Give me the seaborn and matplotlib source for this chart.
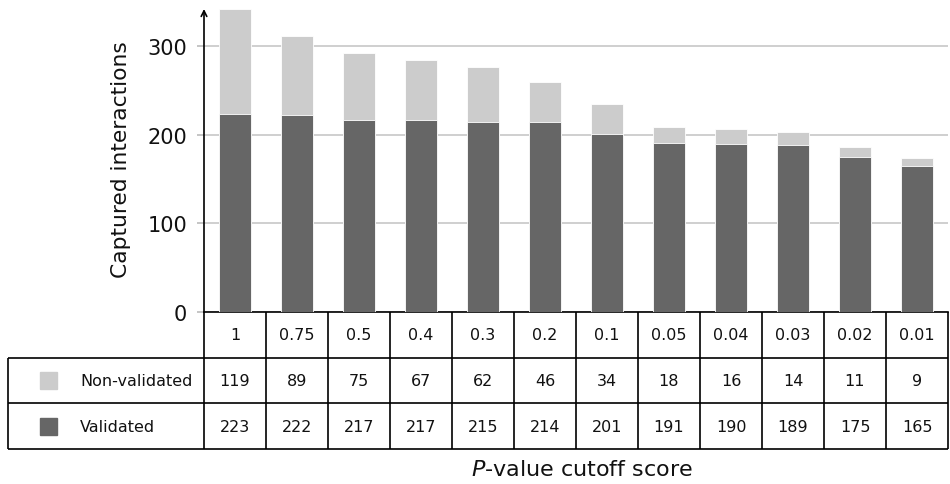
import matplotlib
matplotlib.use('Agg')
import matplotlib.pyplot as plt
from matplotlib.patches import Rectangle
import seaborn as sns
import pandas as pd

cutoffs = ['1', '0.75', '0.5', '0.4', '0.3', '0.2', '0.1', '0.05', '0.04', '0.03', '0.02', '0.01']
non_validated = [119, 89, 75, 67, 62, 46, 34, 18, 16, 14, 11, 9]
validated = [223, 222, 217, 217, 215, 214, 201, 191, 190, 189, 175, 165]
series_names = ['Non-validated', 'Validated']
series_colors = ['#cccccc', '#666666']

sns.set_theme(style='white')
plt.rcParams['font.family'] = ['DejaVu Sans']
plt.rcParams['mathtext.fontset'] = 'dejavusans'

W, H = 950, 485
fig = plt.figure(figsize=(W / 100, H / 100), dpi=100)

df = pd.DataFrame({'cutoff': cutoffs, 'nv': non_validated, 'v': validated})
df['total'] = df['nv'] + df['v']

ax = fig.add_axes([204 / W, 1 - 313 / H, 744 / W, 303 / H])
sns.barplot(data=df, x='cutoff', y='total', color=series_colors[0], saturation=1,
            width=0.52, edgecolor='white', linewidth=0.6, ax=ax, zorder=2)
sns.barplot(data=df, x='cutoff', y='v', color=series_colors[1], saturation=1,
            width=0.52, edgecolor='white', linewidth=0.6, ax=ax, zorder=3)
ax.set_xlim(-0.5, len(cutoffs) - 0.5)
ax.set_ylim(0, 342)
ax.set_yticks([0, 100, 200, 300])
ax.yaxis.grid(True, color='#cccccc', lw=1.3)
ax.set_axisbelow(True)
for s in ['top', 'right', 'left']:
    ax.spines[s].set_visible(False)
ax.spines['bottom'].set_color('black')
ax.spines['bottom'].set_linewidth(1.2)
ax.tick_params(axis='x', bottom=False, labelbottom=False)
ax.tick_params(axis='y', left=True, length=5, width=1.2, color='#bbbbbb', pad=7,
               labelsize=15, labelcolor='#111111')
ax.set_xlabel('')
ax.set_ylabel('')
ax.annotate('', xy=(0, 1.0), xytext=(0, 0), xycoords='axes fraction',
            arrowprops=dict(arrowstyle='->', lw=1.2, color='black',
                            shrinkA=0, shrinkB=0, mutation_scale=10))

fig.text(121 / W, 1 - 160 / H, 'Captured interactions', rotation=90,
         ha='center', va='center', fontsize=15.7, color='#111111')
fig.text(582 / W, 1 - 470 / H, '$P$-value cutoff score', ha='center',
         va='center', fontsize=16, color='#111111')

# table
n = len(cutoffs)
xmin = -0.5 - 196 / 62
tax = fig.add_axes([8 / W, 1 - 450 / H, 940 / W, 137 / H])
tax.set_xlim(xmin, n - 0.5)
tax.set_ylim(0, 3)
tax.axis('off')
lk = dict(color='black', lw=1.2, clip_on=False)
tax.hlines([2, 1, 0], xmin, n - 0.5, **lk)
tax.vlines([i - 0.5 for i in range(n + 1)], 0, 3, **lk)
tax.vlines([xmin], 0, 2, **lk)
fs = 11.5
for i in range(n):
    tax.text(i, 2.5, cutoffs[i], ha='center', va='center', fontsize=fs, color='#111111')
    tax.text(i, 1.5, str(non_validated[i]), ha='center', va='center', fontsize=fs, color='#111111')
    tax.text(i, 0.5, str(validated[i]), ha='center', va='center', fontsize=fs, color='#111111')
sq_h = 17 / (137 / 3)
for yc, name, col in [(1.5, series_names[0], series_colors[0]), (0.5, series_names[1], series_colors[1])]:
    tax.add_patch(Rectangle((xmin + 32 / 62, yc - sq_h / 2), 17 / 62, sq_h, color=col, clip_on=False))
    tax.text(xmin + 72 / 62, yc, name, ha='left', va='center', fontsize=fs, color='#111111')

fig.savefig('out.png', dpi=100)
